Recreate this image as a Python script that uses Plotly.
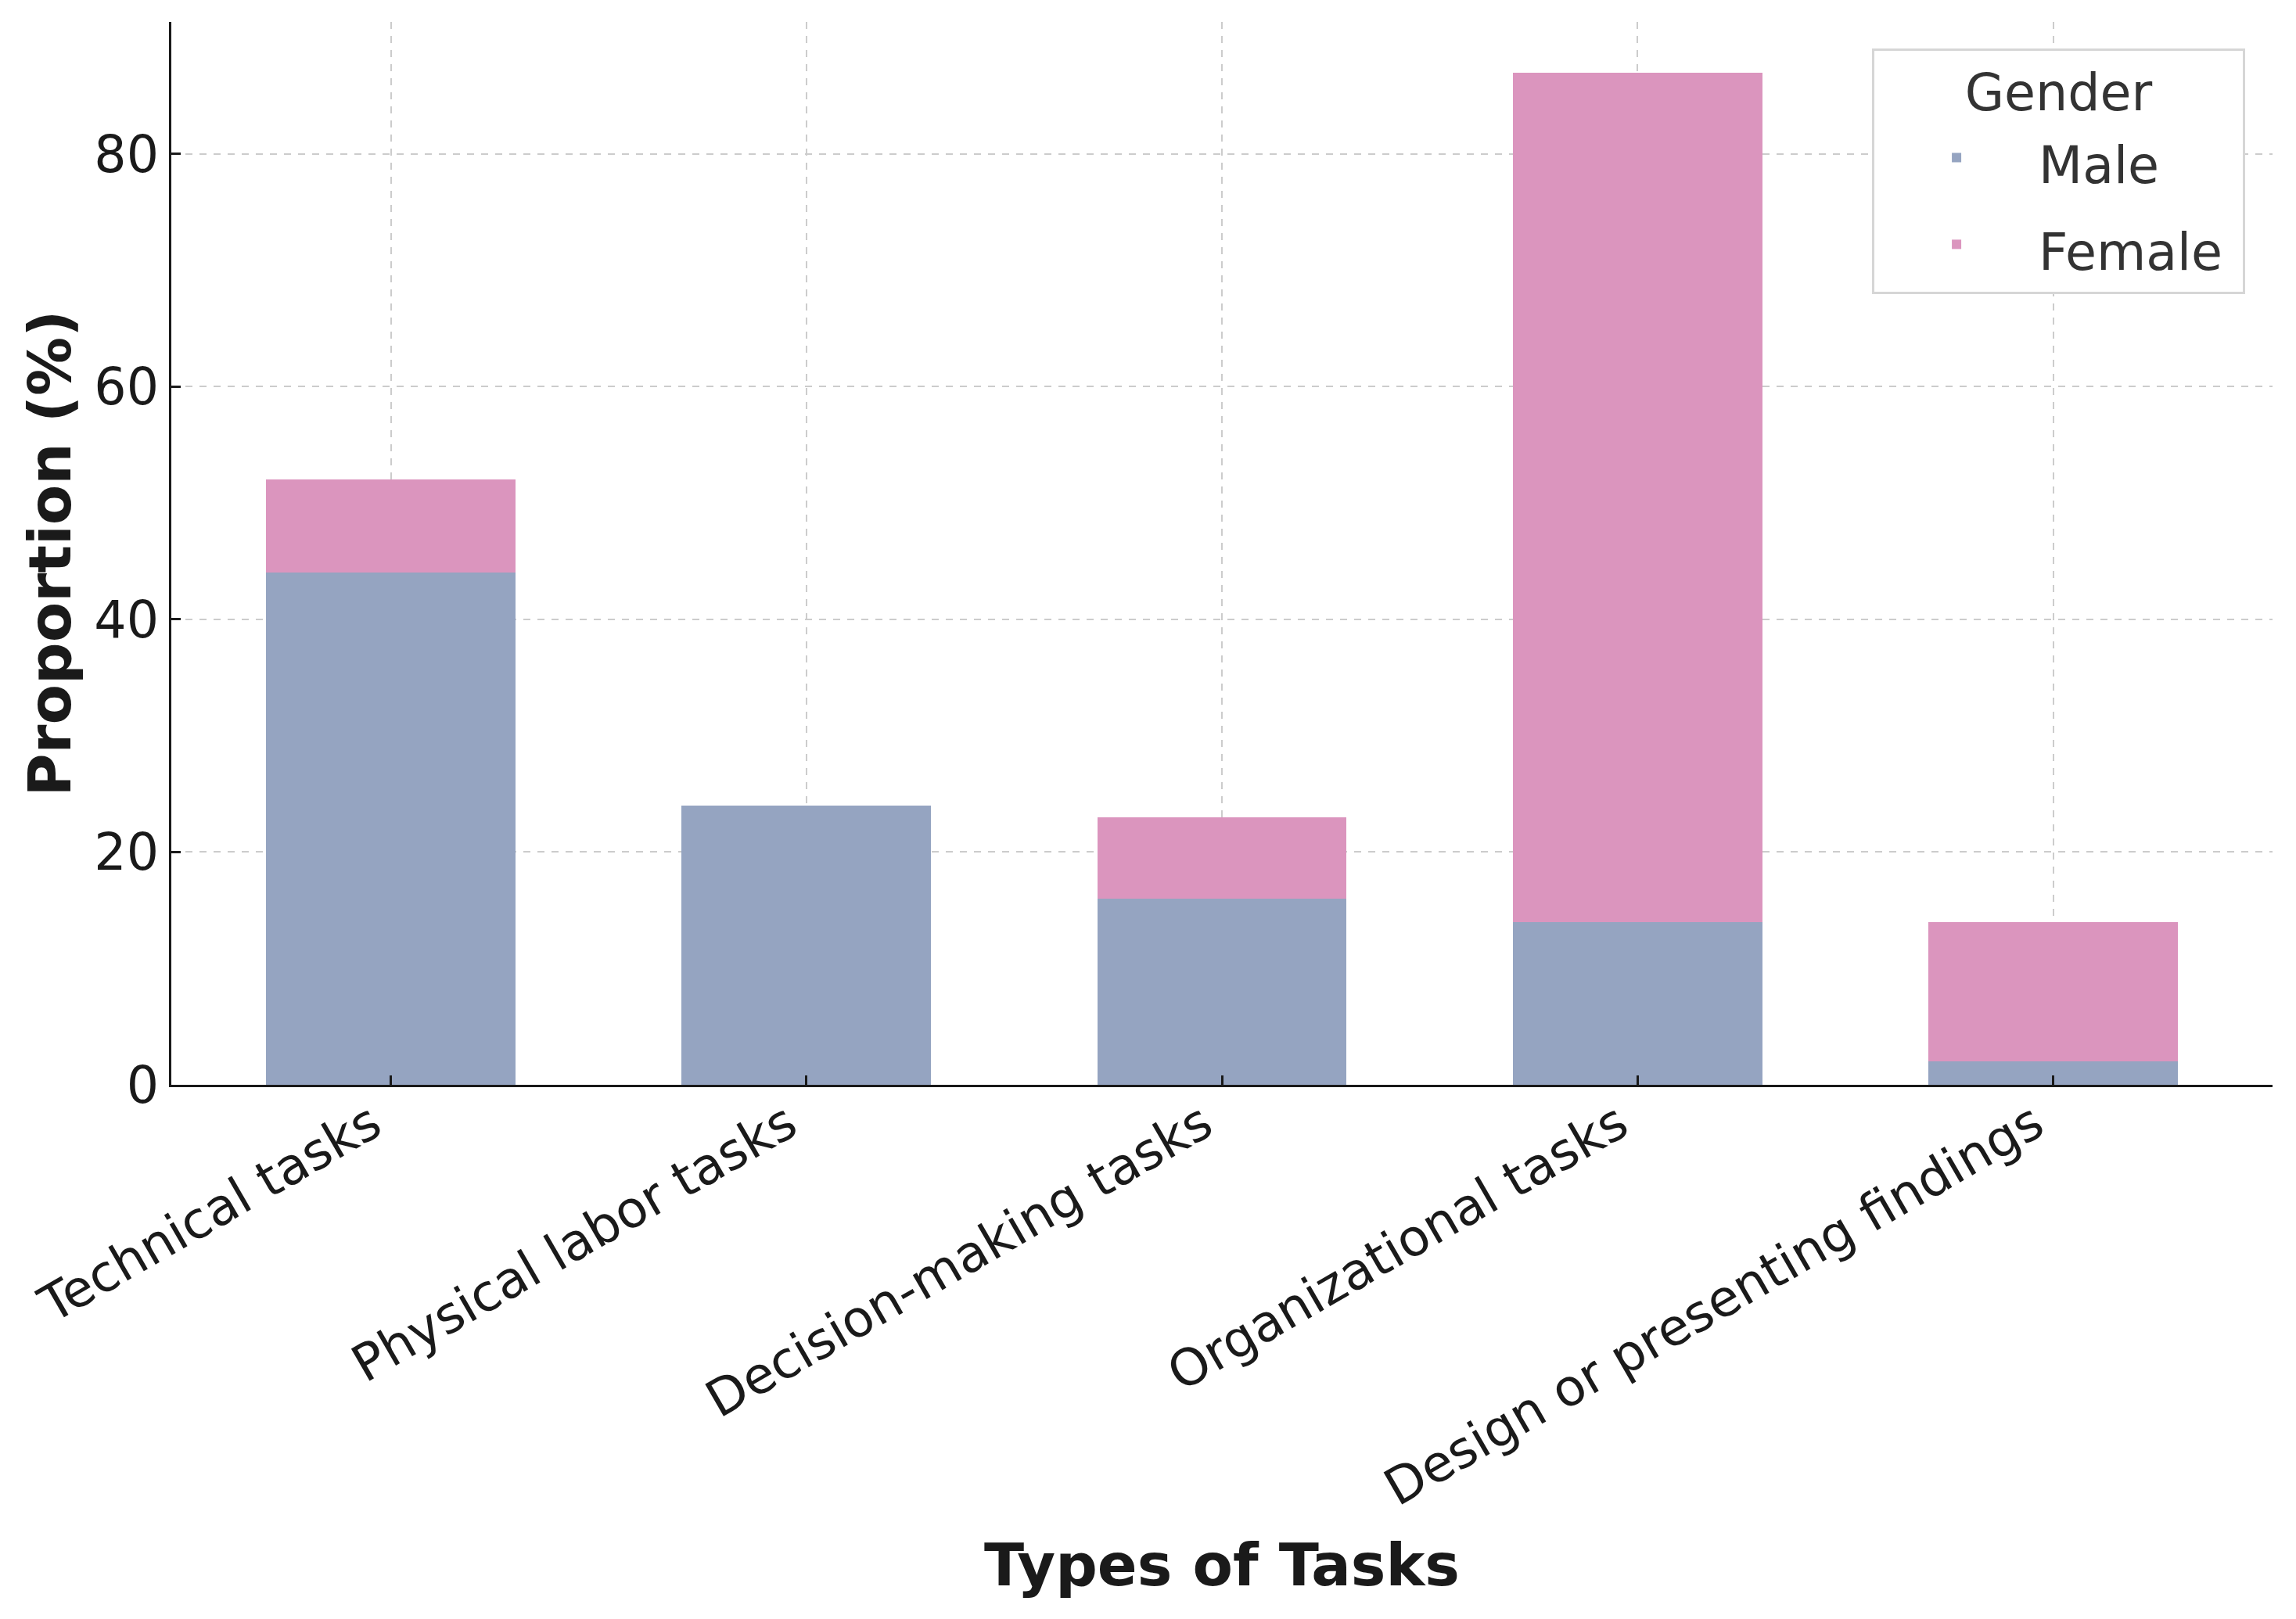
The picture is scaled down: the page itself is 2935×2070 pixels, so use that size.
import plotly.graph_objects as go

categories = ["Technical tasks", "Physical labor tasks", "Decision-making tasks",
              "Organizational tasks", "Design or presenting findings"]
male = [44, 24, 16, 14, 2]
female = [8, 0, 7, 73, 12]
y_ticks = [0, 20, 40, 60, 80]

MALE_COLOR = "#95A4C1"
FEMALE_COLOR = "#DB95BE"
FONT = "DejaVu Sans"
PAD = "\u00a0"


def legend_text(s):
    # glyphs drawn at 65px while the legend line spacing follows the legend font size
    return "<span style='font-size:65px'>" + s + PAD + "</span>"


fig = go.Figure()
fig.add_trace(go.Bar(x=categories, y=male, name=legend_text("Male"),
                     marker=dict(color=MALE_COLOR, line=dict(width=0))))
fig.add_trace(go.Bar(x=categories, y=female, name=legend_text("Female"),
                     marker=dict(color=FEMALE_COLOR, line=dict(width=0))))

top = max(m + f for m, f in zip(male, female)) * 1.05

axis_common = dict(
    showline=True, linecolor="#1a1a1a", linewidth=3, mirror=False,
    ticks="inside", ticklen=12, tickwidth=3, tickcolor="#1a1a1a",
    showgrid=True, gridcolor="#cccccc", griddash="dash", gridwidth=2,
    layer="above traces", zeroline=False,
    tickfont=dict(family=FONT, size=65, color="#1a1a1a"),
)

# page body has an 8px margin; compensate so the plot area lands where the reference has it
fig.update_layout(
    width=2927, height=2062,
    margin=dict(l=211, r=30, t=20, b=683),
    paper_bgcolor="white", plot_bgcolor="white",
    barmode="stack", bargap=0.4,
    font=dict(family=FONT, color="#1a1a1a"),
    xaxis=dict(
        **axis_common,
        type="category", range=[-0.528, len(categories) - 1 + 0.528],
        tickangle=-30, ticklabelshift=-24, ticklabelstandoff=-16,
        title=dict(text="<b>Types of Tasks</b>", font=dict(family=FONT, size=75, color="#1a1a1a"), standoff=36),
    ),
    yaxis=dict(
        **axis_common,
        range=[0, top], tickvals=y_ticks, ticktext=[str(v) for v in y_ticks],
        ticklabelstandoff=0,
        title=dict(text="<b>Proportion (%)</b>", font=dict(family=FONT, size=75, color="#1a1a1a"), standoff=6),
    ),
    legend=dict(
        x=0.987, y=0.975, xanchor="right", yanchor="top",
        bgcolor="white", bordercolor="#d6d6d6", borderwidth=3,
        font=dict(family=FONT, size=83, color="#333333"),
        title=dict(text="<span style='font-size:65px'>Gender</span>", side="top center",
                   font=dict(family=FONT, size=58.5, color="#333333")),
        traceorder="normal", itemwidth=200,
    ),
)

fig.write_html("out.html")
